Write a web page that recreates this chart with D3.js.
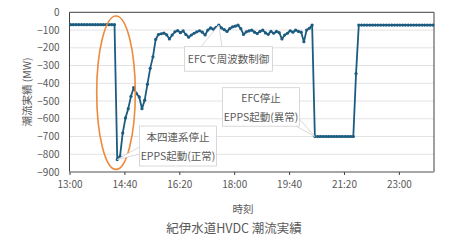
<!DOCTYPE html>
<html>
<head>
<meta charset="utf-8">
<script src="https://cdn.jsdelivr.net/npm/d3@7"></script>
<style>
  body { margin: 0; background: #fff; }
  text { font-family: "Noto Sans CJK JP", "Noto Sans", sans-serif; fill: #595959; }
</style>
</head>
<body>
<div id="chart"></div>
<script>
// sampled every 5 minutes, first sample at 13:02
var startMinute = 13 * 60 + 2;
var stepMinutes = 5;

// 潮流実績 (MW)
var flowValues = [
    -70, -70, -70, -70, -70, -70, -70, -70, -70, -70,
    -70, -70, -70, -70, -70, -70, -70,
    -830, -812, -680, -595, -543, -473, -424, -458, -477,
    -543, -495, -405, -316, -251, -153, -125, -121, -117, -127,
    -150, -128, -110, -103, -115, -105, -125, -140, -128, -118,
    -110, -104, -112, -128, -100, -88, -95, -85, -72, -88,
    -98, -108, -92, -82, -78, -72, -92, -125, -110, -105,
    -100, -112, -120, -108, -100, -116, -124, -108, -118, -108,
    -115, -150, -128, -118, -104, -112, -100, -108, -112, -166,
    -100, -90, -72,
    -700, -700, -700, -700, -700, -700, -700, -700, -700, -700,
    -700, -700, -700, -700, -700,
    -345,
    -72, -72, -72, -72, -72, -72, -72, -72, -72, -72,
    -72, -72, -72, -72, -72, -72, -72, -72, -72, -72,
    -72, -72, -72, -72, -72, -72, -72, -72
];

var xTickLabels = ["13:00", "14:40", "16:20", "18:00", "19:40", "21:20", "23:00"];
var yTickValues = [0, -100, -200, -300, -400, -500, -600, -700, -800, -900];

// callouts: index of the sample they point at, and their text lines
var callouts = [
    {lines: ["本四連系停止", "EPPS起動(正常)"], at: 17},
    {lines: ["EFCで周波数制御"], at: 54},
    {lines: ["EFC停止", "EPPS起動(異常)"], at: 89}
];

var width = 450, height = 242;
var toMinutes = function (s) { var p = s.split(":"); return +p[0] * 60 + +p[1]; };

var points = flowValues.map(function (v, i) {
    return {t: startMinute + i * stepMinutes, v: v};
});

var x = d3.scaleLinear().domain([780, 1444]).range([69.5, 434]);
var y = d3.scaleLinear().domain([-900, 0]).range([172, 12.3]);

var svg = d3.select('#chart')
    .append('svg')
    .attr('width', width)
    .attr('height', height);

// gridlines
svg.append('g')
    .selectAll('line')
    .data(yTickValues.filter(function (d) { return d > -900 && d < 0; }))
    .enter().append('line')
    .attr('x1', x.range()[0]).attr('x2', x.range()[1])
    .attr('y1', function (d) { return y(d); })
    .attr('y2', function (d) { return y(d); })
    .attr('stroke', '#e3e3e3')
    .attr('stroke-width', 1);

// frame: top, left, right
svg.append('path')
    .attr('d', 'M' + x.range()[0] + ',' + y(-900) + 'V' + y(0) + 'H' + x.range()[1] + 'V' + y(-900))
    .attr('fill', 'none')
    .attr('stroke', '#404040')
    .attr('stroke-width', 1);

// y axis labels
var yAxis = d3.axisLeft(y).tickValues(yTickValues).tickSize(0).tickPadding(10);
var gy = svg.append('g')
    .attr('transform', 'translate(' + x.range()[0] + ',0)')
    .call(yAxis);
gy.select('.domain').remove();
gy.selectAll('text').style('font-size', '10px');

// x axis
var xAxis = d3.axisBottom(x)
    .tickValues(xTickLabels.map(toMinutes))
    .tickFormat(function (d, i) { return xTickLabels[i]; })
    .tickSize(3)
    .tickPadding(6);
var gx = svg.append('g')
    .attr('transform', 'translate(0,' + y(-900) + ')')
    .call(xAxis);
gx.select('.domain')
    .attr('d', 'M' + x.range()[0] + ',0H' + x.range()[1])
    .attr('stroke', '#a6a6a6')
    .attr('stroke-width', 2);
gx.selectAll('.tick line').attr('stroke', '#404040');
gx.selectAll('text').style('font-size', '10px');

// series
var line = d3.line()
    .x(function (d) { return x(d.t); })
    .y(function (d) { return y(d.v); });

svg.append('path')
    .datum(points)
    .attr('d', line)
    .attr('fill', 'none')
    .attr('stroke', '#1c5c80')
    .attr('stroke-width', 1.8)
    .attr('stroke-linejoin', 'round');

svg.append('g')
    .selectAll('circle')
    .data(points)
    .enter().append('circle')
    .attr('cx', function (d) { return x(d.t); })
    .attr('cy', function (d) { return y(d.v); })
    .attr('r', 1.6)
    .attr('fill', '#1c5c80');

// orange ellipse round the trip
svg.append('ellipse')
    .attr('cx', 116).attr('cy', 92.7)
    .attr('rx', 19.3).attr('ry', 76.7)
    .attr('fill', 'none')
    .attr('stroke', '#ee8a3c')
    .attr('stroke-width', 1.6);

// callout boxes
var boxes = [
    {x: 139.5, y: 126, w: 77, h: 40, wedge: [[139.5, 147], [139.5, 154]]},
    {x: 184.5, y: 46.7, w: 88, h: 24.5, wedge: [[201, 46.7], [222, 46.7]]},
    {x: 222.5, y: 87.7, w: 77, h: 38.5, wedge: [[296, 126.2], [299.5, 119]]}
];

callouts.forEach(function (c, i) {
    var b = boxes[i];
    var target = points[c.at];
    var tx = x(target.t), ty = y(target.v);

    svg.append('path')
        .attr('d', 'M' + b.wedge[0][0] + ',' + b.wedge[0][1] + 'L' + tx + ',' + ty + 'L' + b.wedge[1][0] + ',' + b.wedge[1][1])
        .attr('fill', '#fff')
        .attr('stroke', '#cfcfcf')
        .attr('stroke-width', 0.8);

    svg.append('rect')
        .attr('x', b.x).attr('y', b.y)
        .attr('width', b.w).attr('height', b.h)
        .attr('fill', '#fff')
        .attr('stroke', '#cfcfcf')
        .attr('stroke-width', 0.8);

    var lineGap = 19;
    var top = b.y + b.h / 2 - (c.lines.length - 1) * lineGap / 2;
    c.lines.forEach(function (t, j) {
        svg.append('text')
            .attr('x', b.x + b.w / 2)
            .attr('y', top + j * lineGap)
            .attr('text-anchor', 'middle')
            .attr('dominant-baseline', 'central')
            .style('font-size', '10.5px')
            .text(t);
    });
});

// axis titles and chart title
svg.append('text')
    .attr('transform', 'translate(26,92) rotate(-90)')
    .attr('text-anchor', 'middle')
    .attr('dominant-baseline', 'central')
    .style('font-size', '10.5px')
    .text('潮流実績 (MW)');

svg.append('text')
    .attr('x', 243).attr('y', 208)
    .attr('text-anchor', 'middle')
    .attr('dominant-baseline', 'central')
    .style('font-size', '10.5px')
    .text('時刻');

svg.append('text')
    .attr('x', 234).attr('y', 227)
    .attr('text-anchor', 'middle')
    .attr('dominant-baseline', 'central')
    .style('font-size', '12.5px')
    .text('紀伊水道HVDC 潮流実績');
</script>
</body>
</html>
